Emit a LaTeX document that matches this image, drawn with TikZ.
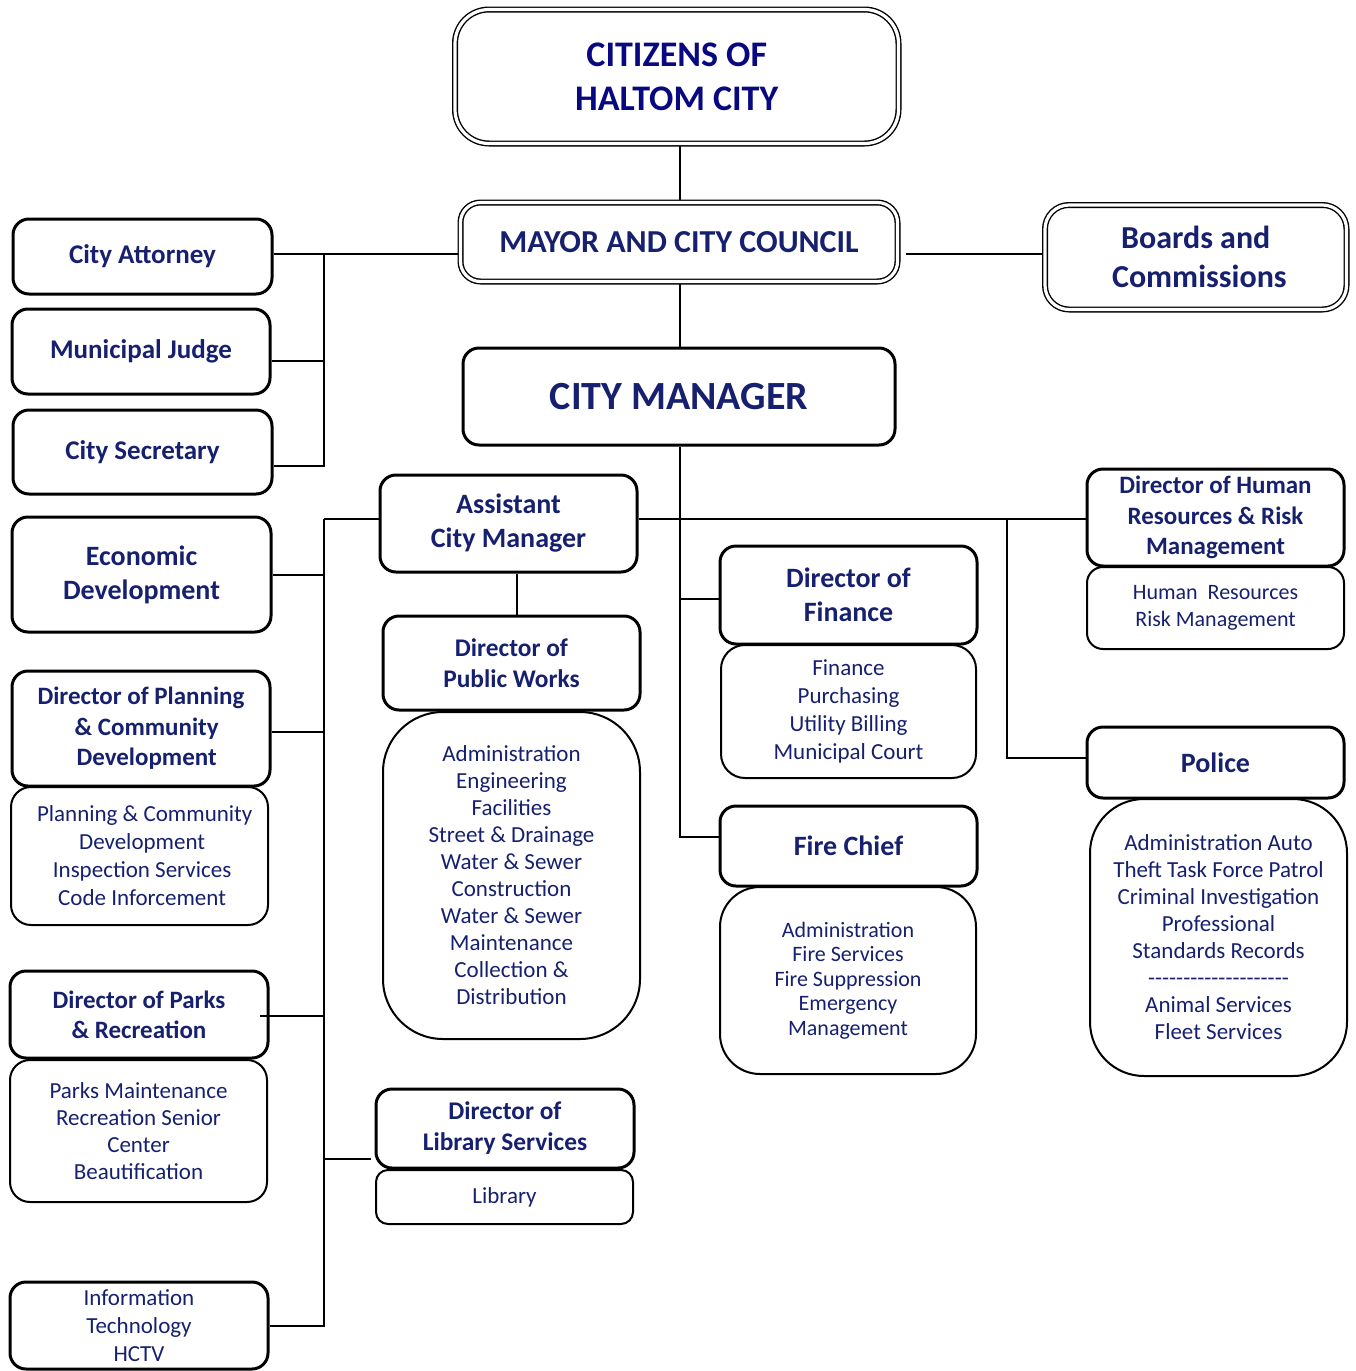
\documentclass[tikz,border=0pt]{standalone}
\usepackage{fontspec}
\setmainfont{Carlito}
\usetikzlibrary{calc}
\definecolor{navy}{RGB}{22,32,110}
\definecolor{tnavy}{RGB}{8,8,128}
\begin{document}
\begin{tikzpicture}[x=0.5pt,y=-0.5pt,
  pos/.style n args={4}{at={({(#1+#3)/2},{(#2+#4)/2})}, minimum width={(#3-#1)*0.5pt}, minimum height={(#4-#2)*0.5pt}},
  hdr/.style={draw, line width=1.5pt, rounded corners=8pt, inner sep=0pt, align=center, text=navy, font=\bfseries\fontsize{14}{17}\selectfont},
  dbl/.style={draw, line width=0.7pt, double=white, double distance=1.6pt, rounded corners=#1, inner sep=0pt, align=center, text=navy},
  sub/.style={draw, line width=1pt, rounded corners=#1, inner sep=0pt, align=center, text=navy, font=\fontsize{11.5}{13.5}\selectfont},
  sub/.default=8pt,
  con/.style={line width=1pt}]
\useasboundingbox (0,0) rectangle (1355,1371);

% top
\node[dbl=17pt, pos={455}{9.5}{898.5}{143.5}, font=\bfseries\fontsize{18}{22}\selectfont, text=tnavy] (cit) {CITIZENS OF\\HALTOM CITY};
\node[dbl=10pt, pos={460.5}{202.5}{897.5}{281.5}, font=\bfseries\fontsize{16}{19.5}\selectfont] (mayor) {MAYOR AND CITY COUNCIL};
\node[dbl=12pt, pos={1045}{205}{1346.5}{309.5}, font=\bfseries\fontsize{16}{19.5}\selectfont] (boards) {Boards and\\\ Commissions};
\node[hdr, pos={463}{348}{895}{445}, font=\bfseries\fontsize{20}{24}\selectfont] (cm) {CITY MANAGER};

% left column
\node[hdr, pos={13}{219}{272}{294}, font=\bfseries\fontsize{13.5}{16.5}\selectfont] (att) {City Attorney};
\node[hdr, pos={12}{309}{270}{394}, font=\bfseries\fontsize{13.5}{16.5}\selectfont] (judge) {Municipal Judge};
\node[hdr, pos={13}{410}{272}{494}, font=\bfseries\fontsize{13.5}{16.5}\selectfont] (sec) {City Secretary};
\node[hdr, pos={12}{517}{271}{632}] (econ) {Economic\\Development};
\node[hdr, pos={12}{671}{270}{786}, font=\bfseries\fontsize{12.5}{15.2}\selectfont] (plan) {Director of Planning\\\ \ \& Community\\\ \ Development};
\node[sub=10pt, pos={11}{787}{268}{925}, font=\fontsize{11.5}{14}\selectfont] (plansub) {\ \ Planning \& Community\\\ Development\\\ Inspection Services\\\ Code Inforcement};
\node[hdr, pos={10}{971}{268}{1058}, font=\bfseries\fontsize{12.5}{15}\selectfont] (parks) {Director of Parks\\\& Recreation};
\node[sub=10pt, pos={10}{1060}{267}{1202}] (parksub) {Parks Maintenance\\Recreation Senior\\Center\\Beautification};
\node[hdr, pos={10}{1282}{268}{1369}, font=\fontsize{11.5}{14}\selectfont] (it) {Information\\Technology\\HCTV};

% middle column
\node[hdr, pos={380}{475}{637}{572}] (asst) {Assistant\\City Manager};
\node[hdr, pos={383}{616}{640}{710}, font=\bfseries\fontsize{12.7}{15.5}\selectfont] (pw) {Director of\\Public Works};
\node[sub=30pt, pos={383}{712}{640}{1039}] (pwsub) {Administration\\Engineering\\Facilities\\Street \& Drainage\\Water \& Sewer\\Construction\\Water \& Sewer\\Maintenance\\Collection \&\\Distribution};
\node[hdr, pos={376}{1089}{634}{1168}, font=\bfseries\fontsize{12.7}{15.5}\selectfont] (lib) {Director of\\Library Services};
\node[sub=6pt, pos={376}{1170}{633}{1224}] (libsub) {Library};

% finance / fire
\node[hdr, pos={720}{546}{977}{644}] (fin) {Director of\\Finance};
\node[sub=12pt, pos={721}{645}{976}{778}, font=\fontsize{11.5}{14}\selectfont] (finsub) {Finance\\Purchasing\\Utility Billing\\Municipal Court};
\node[hdr, pos={720}{806}{977}{886}] (fire) {Fire Chief};
\node[sub=20pt, pos={720}{887}{976}{1074}, font=\fontsize{11}{12.3}\selectfont] (firesub) {Administration\\Fire Services\\Fire Suppression\\Emergency\\Management};

% right column
\node[hdr, pos={1087}{469}{1344}{566}, font=\bfseries\fontsize{12.5}{15.3}\selectfont] (hr) {Director of Human\\Resources \& Risk\\Management};
\node[sub=8pt, pos={1087}{567}{1344}{649}, font=\fontsize{11}{13.5}\selectfont] (hrsub) {Human\ \ Resources\\Risk Management};
\node[hdr, pos={1087}{727}{1344}{798}] (police) {Police};
\node[sub=27pt, pos={1090}{799}{1347}{1076}] (polsub) {Administration Auto\\Theft Task Force Patrol\\Criminal Investigation\\Professional\\Standards Records\\\mbox{-}\mbox{-}\mbox{-}\mbox{-}\mbox{-}\mbox{-}\mbox{-}\mbox{-}\mbox{-}\mbox{-}\mbox{-}\mbox{-}\mbox{-}\mbox{-}\mbox{-}\mbox{-}\mbox{-}\mbox{-}\mbox{-}\mbox{-}\\Animal Services\\Fleet Services};

% connectors
\coordinate (cx) at (680,0);
\coordinate (lb) at (324,0);
\coordinate (rb) at (1007,0);
\coordinate (hy) at (0,519);
\coordinate (pwx) at (517,0);

\draw[con] ($(cit.south -| cx)+(0,2)$) -- ($(mayor.north -| cx)+(0,-2)$);
\draw[con] ($(mayor.south -| cx)+(0,2)$) -- (cm.north -| cx);
\draw[con] ($(att.east)+(0,-3)$) -- ($(att.east -| mayor.west)+(-2,-3)$);
\draw[con] ($(att.east -| lb)+(0,-3)$) -- ($(sec.east -| lb)+(0,14)$) -- ($(sec.east)+(0,14)$);
\draw[con] ($(judge.east)+(0,9)$) -- ($(judge.east -| lb)+(0,9)$);
\draw[con] ($(boards.west)+(-2,-3)$) -- ($(boards.west -| mayor.east)+(8,-3)$);

\draw[con] (lb |- hy) -- (lb |- it.east) -- (it.east);
\draw[con] (lb |- hy) -- (asst.west |- hy);
\draw[con] (econ.east) -- (econ.east -| lb);
\draw[con] ($(plan.east)+(0,3)$) -- ($(plan.east -| lb)+(0,3)$);
\draw[con] ($(parks.east)+(-10,1.5)$) -- ($(parks.east -| lb)+(0,1.5)$);
\draw[con] ($(lib.west)+(-4,30)$) -- ($(lib.west -| lb)+(0,30)$);
\draw[con] (asst.south -| pwx) -- (pw.north -| pwx);

\draw[con] (asst.east |- hy) -- (hr.west |- hy);
\draw[con] (cm.south -| cx) -- ($(fire.west -| cx)+(0,-9)$) -- ($(fire.west)+(0,-9)$);
\draw[con] ($(fin.west -| cx)+(0,4)$) -- ($(fin.west)+(0,4)$);
\draw[con] (rb |- hy) -- ($(police.west -| rb)+(0,-4.5)$) -- ($(police.west)+(0,-4.5)$);
\end{tikzpicture}
\end{document}
